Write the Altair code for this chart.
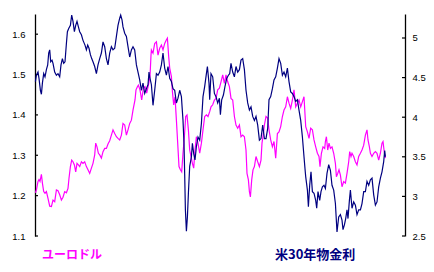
import altair as alt
import pandas as pd

# ---- data (time index, value) ----
eur_t = [0, 1, 2.6, 3.6, 4.6, 6, 7, 8.3, 9.6, 11, 12.6, 14.3, 16, 17.6, 19.3, 21, 22.6, 24.3, 26, 27.6,
         29.3, 31, 32.6, 33.6, 35, 36.3, 37.6, 39, 40.3, 41.6, 43, 44.3, 46, 47.6, 49.3, 51, 52.6, 54.3, 56, 57.6,
         59.3, 60.3, 61.6, 63, 64.3, 66, 67.6, 69.3, 71, 72.6, 74.3, 76, 77.6, 79.3, 81, 82.6, 84.3, 86, 87.6, 89.3,
         91, 92.6, 94.3, 96, 97.6, 99.6, 100.6, 102, 103, 104.6, 106.3, 108, 109.6, 111.3, 113, 114.6, 115.6, 116, 117.6, 119.3,
         121, 122.6, 124.3, 126, 127.6, 129.3, 131, 132, 133.3, 134.3, 136, 137, 138.3, 139.6, 141, 142.3, 143.6, 145, 146.3, 147.6,
         149, 150.3, 151.6, 153, 154.3, 155.6, 157, 158.3, 159.6, 161, 162.6, 164.3, 166, 167.6, 169.3, 171, 172.6, 174.3, 175.6, 177.3,
         179, 180.6, 182.3, 184, 185.6, 187.3, 189, 190.6, 192.3, 194, 195.6, 197.3, 199, 200.6, 202.3, 204, 205.6, 207.3, 209, 210.6,
         211.6, 213, 214, 215, 216.3, 217.6, 219, 220.6, 222.3, 224, 225.6, 226.6, 228, 229, 230.6, 232.3, 233.6, 235.3, 237, 238.6,
         240.3, 242, 243.6, 245.3, 247, 248.6, 250.3, 252, 253.6, 255.3, 257, 258.6, 260.3, 262, 263.6, 265.3, 267, 268.6, 270.3, 272,
         273.6, 275.3, 277, 278.6, 280.3, 282, 283.6, 284.6, 286, 287.6, 289.3, 290, 291, 292.3, 293.6, 295, 296.6, 298.3, 300, 301,
         302.3, 303.6, 305, 306.6, 308.3, 310, 311.6, 313.3, 314.3, 315.6, 316.6, 318.3, 320, 321.6, 323.3, 325, 326.6, 328.3, 330, 331.6,
         332.6, 334, 335, 336.6, 338.3, 340, 341.6, 343.3, 345, 346.6, 347.6, 349, 350]
eur_v = [1.207, 1.214, 1.235, 1.240, 1.235, 1.253, 1.231, 1.210, 1.206, 1.210, 1.193, 1.174, 1.173, 1.189, 1.185, 1.214, 1.212, 1.202, 1.189, 1.196,
         1.210, 1.207, 1.218, 1.243, 1.272, 1.288, 1.284, 1.276, 1.259, 1.280, 1.276, 1.272, 1.284, 1.280, 1.284, 1.272, 1.264, 1.255, 1.268, 1.280,
         1.301, 1.330, 1.321, 1.305, 1.301, 1.293, 1.309, 1.317, 1.317, 1.328, 1.336, 1.350, 1.363, 1.354, 1.346, 1.342, 1.338, 1.350, 1.379, 1.375,
         1.350, 1.363, 1.379, 1.387, 1.412, 1.437, 1.462, 1.470, 1.474, 1.462, 1.437, 1.466, 1.470, 1.454, 1.474, 1.495, 1.548, 1.561, 1.553, 1.577,
         1.581, 1.548, 1.565, 1.573, 1.561, 1.577, 1.586, 1.590, 1.544, 1.516, 1.495, 1.458, 1.425, 1.445, 1.387, 1.330, 1.272, 1.264, 1.259, 1.305,
         1.346, 1.396, 1.400, 1.363, 1.313, 1.297, 1.280, 1.268, 1.313, 1.346, 1.330, 1.305, 1.330, 1.363, 1.396, 1.400, 1.396, 1.408, 1.420, 1.425,
         1.437, 1.441, 1.462, 1.466, 1.482, 1.499, 1.478, 1.499, 1.482, 1.470, 1.441, 1.437, 1.396, 1.375, 1.367, 1.375, 1.346, 1.350, 1.346, 1.313,
         1.255, 1.239, 1.210, 1.197, 1.239, 1.264, 1.272, 1.297, 1.284, 1.272, 1.288, 1.330, 1.354, 1.375, 1.396, 1.392, 1.363, 1.338, 1.321, 1.334,
         1.293, 1.354, 1.358, 1.371, 1.396, 1.412, 1.420, 1.445, 1.429, 1.416, 1.437, 1.462, 1.420, 1.429, 1.437, 1.420, 1.433, 1.445, 1.371, 1.358,
         1.342, 1.367, 1.363, 1.338, 1.321, 1.305, 1.297, 1.272, 1.305, 1.321, 1.317, 1.334, 1.346, 1.313, 1.330, 1.317, 1.321, 1.305, 1.280, 1.247,
         1.255, 1.264, 1.251, 1.222, 1.235, 1.231, 1.255, 1.284, 1.309, 1.297, 1.305, 1.297, 1.284, 1.276, 1.297, 1.305, 1.313, 1.325, 1.350, 1.363,
         1.338, 1.321, 1.305, 1.297, 1.305, 1.309, 1.305, 1.288, 1.305, 1.330, 1.334, 1.305, 1.293]

rate_t = [0, 1, 2.6, 3.6, 5, 6, 7, 8.3, 9.6, 11, 12.3, 13.3, 14.3, 15.3, 16.6, 17.6, 19.3, 21, 22.6, 24.3,
          25.6, 27, 28.3, 29.6, 31, 32, 33.3, 35, 36.3, 37.6, 39, 40.3, 41.6, 43, 44.3, 46, 47.6, 49.6, 51, 52.3,
          53.6, 55, 56.3, 57.6, 59.3, 61, 62.6, 64.3, 66, 67.6, 69.3, 71, 72.6, 74.3, 76, 77.6, 79.3, 81, 82.6, 84.3,
          85.3, 86.6, 87.6, 89.3, 91, 92.6, 94.3, 96, 97.6, 99.3, 101, 102.6, 104.3, 106, 107.6, 109.3, 111, 112.6, 113.6, 114.3,
          116, 117.6, 119.3, 121, 122.6, 124.3, 126, 127.6, 129.3, 131, 132.6, 134.3, 136, 137.6, 139.3, 141, 142.6, 144.3, 146, 147.6,
          148.6, 149.3, 150, 151, 152, 153, 154.3, 156, 157, 158.3, 159.6, 161, 162.6, 164.3, 166, 167.6, 169.3, 171, 172, 173.6,
          174.3, 175.6, 177.3, 179, 180.6, 182.3, 184, 185, 186.3, 188, 189.6, 191.3, 193, 194.3, 195.6, 197.3, 199, 200.6, 202.3, 204,
          205.6, 207.3, 209, 210.6, 212.3, 214, 215.6, 217.3, 219, 220.6, 222.3, 224, 225.6, 227.3, 229, 230.6, 232.3, 233.6, 235.3, 237,
          238.6, 240.3, 242, 243.6, 245.3, 247, 248.6, 250.3, 252, 253.6, 255.3, 257, 258.6, 260.3, 262, 263.6, 265.3, 267, 268.6, 269.6,
          270.3, 272, 273, 274.3, 275.6, 277, 278.6, 280.3, 281.3, 282.6, 284.3, 285.6, 287, 288.6, 290, 291.6, 293.3, 295, 296.6, 298.3,
          300, 301.6, 303.3, 305, 306.6, 307.6, 309, 310.3, 311.6, 312.6, 314, 315, 316.6, 318.3, 320, 321.6, 323.3, 325, 326.6, 328.3,
          330, 331.6, 333.3, 335, 336.6, 338.3, 340, 341.6, 343.3, 345, 346.6, 348.3, 349.3, 350]
rate_v = [4.45, 4.53, 4.57, 4.49, 4.34, 4.29, 4.43, 4.55, 4.51, 4.60, 4.66, 4.81, 4.85, 4.70, 4.72, 4.68, 4.57, 4.53, 4.55, 4.51,
          4.66, 4.74, 4.68, 4.70, 4.93, 5.08, 5.12, 5.16, 5.29, 5.21, 5.08, 5.16, 5.21, 5.14, 5.08, 5.04, 4.97, 4.91, 4.85, 4.91,
          4.87, 4.79, 4.74, 4.70, 4.64, 4.55, 4.66, 4.74, 4.81, 4.95, 4.89, 4.74, 4.66, 4.81, 4.89, 4.85, 4.87, 5.02, 5.16, 5.25,
          5.29, 5.23, 5.14, 5.06, 5.02, 4.89, 4.76, 4.85, 4.89, 4.85, 4.66, 4.57, 4.47, 4.34, 4.43, 4.30, 4.36, 4.41, 4.57, 4.51,
          4.41, 4.15, 4.34, 4.55, 4.53, 4.57, 4.66, 4.81, 4.62, 4.53, 4.64, 4.49, 4.45, 4.36, 4.34, 4.18, 4.24, 4.34, 4.26, 3.96,
          3.67, 3.27, 2.83, 2.56, 2.74, 3.04, 3.38, 3.50, 3.67, 3.54, 3.46, 3.63, 3.75, 3.71, 3.92, 4.26, 4.39, 4.55, 4.64, 4.43,
          4.22, 4.55, 4.51, 4.30, 4.26, 4.18, 4.24, 4.03, 4.22, 4.28, 4.39, 4.49, 4.53, 4.55, 4.68, 4.57, 4.51, 4.64, 4.57, 4.60,
          4.72, 4.74, 4.60, 4.34, 4.18, 4.09, 4.13, 4.01, 3.96, 4.01, 3.90, 3.71, 3.73, 3.90, 3.73, 3.73, 3.86, 4.22, 4.26, 4.36,
          4.47, 4.51, 4.62, 4.74, 4.68, 4.53, 4.57, 4.51, 4.62, 4.45, 4.32, 4.30, 4.26, 4.20, 4.22, 4.09, 3.96, 3.75, 3.50, 3.35,
          3.25, 3.08, 2.87, 3.14, 3.31, 3.06, 3.04, 2.95, 2.85, 3.06, 2.95, 3.06, 3.12, 3.14, 3.10, 3.29, 3.40, 3.33, 3.14, 3.08,
          2.91, 2.55, 2.74, 2.77, 2.70, 2.58, 2.64, 2.72, 2.83, 2.72, 2.95, 3.08, 2.85, 2.93, 2.89, 2.77, 2.83, 2.83, 2.91, 3.06,
          3.06, 3.19, 3.14, 3.21, 3.23, 3.02, 2.89, 2.93, 3.12, 3.23, 3.31, 3.44, 3.58, 3.50]

eur_ticks = [1.1, 1.2, 1.3, 1.4, 1.5, 1.6]
rate_ticks = [2.5, 3.0, 3.5, 4.0, 4.5, 5.0]
series_names = ["ユーロドル", "米30年物金利"]

EUR_DOMAIN = [1.1, 1.65]
RATE_DOMAIN = [2.5, 5.303]
X_DOMAIN = [-0.4, 369.6]

MAGENTA = "#FF00FF"
NAVY = "#000080"
W, H = 370, 222

xenc = alt.X("t:Q", scale=alt.Scale(domain=X_DOMAIN, nice=False, zero=False), axis=None)
eur_scale = alt.Scale(domain=EUR_DOMAIN, nice=False, zero=False)
rate_scale = alt.Scale(domain=RATE_DOMAIN, nice=False, zero=False)

axis_common = dict(grid=False, ticks=False, domainColor="black", domainWidth=1.3,
                   labelFont="Liberation Sans", labelFontSize=9.5, labelColor="black",
                   labelOverlap=False, title=None)

eur_line = alt.Chart(pd.DataFrame({"t": eur_t, "v": eur_v})).mark_line(
    color=MAGENTA, strokeWidth=1.2).encode(
    x=xenc,
    y=alt.Y("v:Q", scale=eur_scale,
            axis=alt.Axis(orient="left", values=eur_ticks, format=".1f", labelPadding=10, **axis_common)))

eur_tick_marks = alt.Chart(pd.DataFrame({"v": eur_ticks})).mark_rule(
    color="black", strokeWidth=1.2).encode(
    y=alt.Y("v:Q", scale=eur_scale, axis=None),
    x=alt.value(0), x2=alt.value(3))

rate_line = alt.Chart(pd.DataFrame({"t": rate_t, "v": rate_v})).mark_line(
    color=NAVY, strokeWidth=1.2).encode(
    x=xenc,
    y=alt.Y("v:Q", scale=rate_scale,
            axis=alt.Axis(orient="right", values=rate_ticks, format="~g", labelPadding=7, **axis_common)))

rate_tick_marks = alt.Chart(pd.DataFrame({"v": rate_ticks})).mark_rule(
    color="black", strokeWidth=1.2).encode(
    y=alt.Y("v:Q", scale=rate_scale, axis=None),
    x=alt.value(W - 3), x2=alt.value(W))

eur_label = alt.Chart(pd.DataFrame({"name": [series_names[0]]})).mark_text(
    font="Noto Sans CJK JP", fontSize=12, fontWeight="bold", color=MAGENTA,
    align="left", baseline="middle").encode(
    text="name:N", x=alt.value(7), y=alt.value(241))

rate_label = alt.Chart(pd.DataFrame({"name": [series_names[1]]})).mark_text(
    font="Noto Sans CJK JP", fontSize=13, fontWeight="bold", color=NAVY,
    align="left", baseline="middle").encode(
    text="name:N", x=alt.value(240), y=alt.value(241))

chart = alt.layer(
    eur_line, eur_tick_marks, rate_line, rate_tick_marks, eur_label, rate_label
).resolve_scale(y="independent").properties(
    width=W, height=H,
    padding={"left": 35, "top": 14, "right": 29, "bottom": 36},
    autosize=alt.AutoSizeParams(type="none"),
    background="white",
).configure_view(stroke=None)

chart.save("out.html", embed_options={"renderer": "svg", "actions": False})
